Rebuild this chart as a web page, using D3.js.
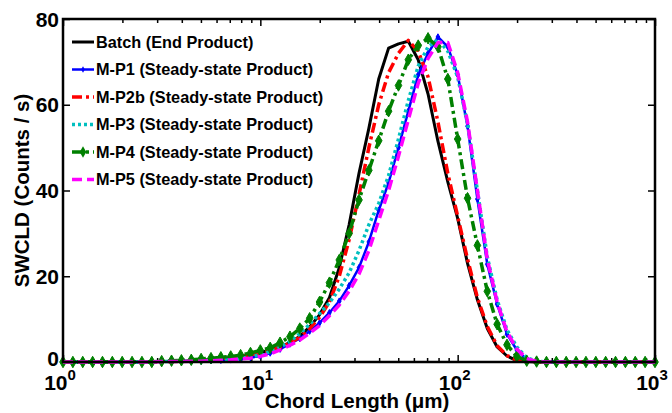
<!DOCTYPE html>
<html>
<head>
<meta charset="utf-8">
<script src="https://cdn.jsdelivr.net/npm/d3@7"></script>
<style>
  body { margin: 0; background: #fff; }
  svg { display: block; font-family: "Liberation Sans", Arial, sans-serif; font-weight: bold; }
</style>
</head>
<body>
<svg id="fig" width="672" height="413"></svg>
<script>
// chord length bins (um), log spaced
const chordLength = [1, 1.122, 1.259, 1.413, 1.585, 1.778, 1.995, 2.239, 2.512, 2.818,
  3.162, 3.548, 3.981, 4.467, 5.012, 5.623, 6.310, 7.079, 7.943, 8.913,
  10, 11.22, 12.59, 14.13, 15.85, 17.78, 19.95, 22.39, 25.12, 28.18,
  31.62, 35.48, 39.81, 44.67, 50.12, 56.23, 63.10, 70.79, 79.43, 89.13,
  100, 112.2, 125.9, 141.3, 158.5, 177.8, 199.5, 223.9, 251.2, 281.8,
  316.2, 354.8, 398.1, 446.7, 501.2, 562.3, 631.0, 707.9, 794.3, 891.3, 1000];

const batch = [0, 0, 0, 0, 0, 0, 0, 0, 0, 0,
  0.1, 0.1, 0.2, 0.3, 0.4, 0.6, 0.8, 1.0, 1.3, 1.7,
  2.2, 2.8, 3.5, 4.5, 6, 8.2, 11, 15, 22, 32,
  44, 54.5, 66, 73.2, 74.2, 74.8, 70.5, 62.5, 51.5, 42,
  33.5, 23, 14.5, 7.8, 3.5, 1.4, 0.3, 0.1, 0, 0,
  0, 0, 0, 0, 0, 0, 0, 0, 0, 0, 0];

const mp1 = [0, 0, 0, 0, 0, 0, 0, 0, 0, 0,
  0.1, 0.1, 0.1, 0.2, 0.2, 0.3, 0.4, 0.5, 0.7, 1.0,
  1.4, 2.1, 3.0, 4.2, 5.5, 7.2, 9.1, 11.5, 14.2, 17.8,
  22, 28, 35.4, 41.8, 50, 58.5, 67, 72, 75.8, 73.5,
  67, 55, 38, 22.8, 13.5, 6.5, 2.8, 0.5, 0.1, 0,
  0, 0, 0, 0, 0, 0, 0, 0, 0, 0, 0];

const mp2b = [0, 0, 0, 0, 0, 0, 0, 0, 0, 0,
  0.1, 0.1, 0.2, 0.3, 0.4, 0.6, 0.8, 1.0, 1.3, 1.7,
  2.2, 2.7, 3.4, 4.4, 5.8, 7.8, 10.4, 14, 20, 28.5,
  39, 50, 60, 67.5, 72, 75, 72.5, 66.5, 56, 44,
  34, 24, 15, 8.3, 3.8, 1.5, 0.4, 0.1, 0, 0,
  0, 0, 0, 0, 0, 0, 0, 0, 0, 0, 0];

const mp3 = [0, 0, 0, 0, 0, 0, 0, 0, 0, 0,
  0.1, 0.1, 0.2, 0.2, 0.3, 0.4, 0.5, 0.7, 0.9, 1.2,
  1.7, 2.4, 3.4, 4.8, 6.6, 8.8, 11.3, 13.8, 17, 20.8,
  26, 32, 37, 43.5, 52, 61, 69, 73.5, 75.2, 72.5,
  66.5, 55.5, 40, 24.5, 14.5, 7.5, 3.5, 1, 0.2, 0,
  0, 0, 0, 0, 0, 0, 0, 0, 0, 0, 0];

const mp4 = [0, 0, 0, 0, 0, 0, 0, 0, 0, 0,
  0.2, 0.3, 0.4, 0.5, 0.7, 0.9, 1.1, 1.3, 1.6, 2.1,
  2.7, 3.3, 4.5, 5.9, 7.8, 10.2, 14, 18.5, 23.8, 30,
  37.8, 44.7, 51.6, 58.5, 64.5, 70.5, 73.8, 75.5, 73.5, 66,
  52, 38.2, 27.2, 16.5, 8.8, 4, 1.3, 0.3, 0.1, 0,
  0, 0, 0, 0, 0, 0, 0, 0, 0, 0, 0];

const mp5 = [0, 0, 0, 0, 0, 0, 0, 0, 0, 0,
  0.1, 0.1, 0.1, 0.2, 0.2, 0.3, 0.4, 0.5, 0.7, 0.9,
  1.3, 1.9, 2.8, 3.9, 5.1, 6.7, 8.5, 10.8, 13.3, 16.5,
  20.5, 26, 33, 40, 48, 56.5, 65, 70.8, 74.5, 74.5,
  67.5, 56, 40, 24, 14, 7, 3, 0.8, 0.1, 0,
  0, 0, 0, 0, 0, 0, 0, 0, 0, 0, 0];

const seriesNames = ["Batch (End Product)", "M-P1 (Steady-state Product)", "M-P2b (Steady-state Product)",
  "M-P3 (Steady-state Product)", "M-P4 (Steady-state Product)", "M-P5 (Steady-state Product)"];
const seriesValues = [batch, mp1, mp2b, mp3, mp4, mp5];

const xMajor = [1, 10, 100, 1000];
const yTicks = [0, 20, 40, 60, 80];

// styling per series
const styles = [
  {color: "#000000", width: 3, dash: null, marker: null},
  {color: "#0000ff", width: 2.5, dash: null, marker: 12},
  {color: "#ff0000", width: 3.5, dash: "10,4,3,4", marker: null},
  {color: "#00bfbf", width: 3.5, dash: "3,3", marker: null},
  {color: "#008000", width: 3.5, dash: "10,4,3,4", marker: 38},
  {color: "#ff00ff", width: 3.5, dash: "10,5", marker: null}
];

const svg = d3.select("#fig");
const margin = {left: 63, right: 17, top: 19, bottom: 51};
const W = 672 - margin.left - margin.right;
const H = 413 - margin.top - margin.bottom;

const fig = svg.append("g").attr("transform", `translate(${margin.left},${margin.top})`);

const x = d3.scaleLog().domain([1, 1000]).range([0, W]);
const y = d3.scaleLinear().domain([0, 80]).range([H, 0]);

// minor ticks 2..9 in each decade
const xMinor = [];
xMajor.slice(0, -1).forEach(d => { for (let k = 2; k <= 9; k++) xMinor.push(d * k); });

function tickAxis(axisFn, scale, vals, size) {
  return axisFn(scale).tickValues(vals).tickSize(size).tickSizeOuter(0).tickFormat("");
}

const axes = [
  {fn: d3.axisBottom, s: x, t: `translate(0,${H})`, major: xMajor, minor: xMinor},
  {fn: d3.axisTop, s: x, t: `translate(0,0)`, major: xMajor, minor: xMinor},
  {fn: d3.axisLeft, s: y, t: `translate(0,0)`, major: yTicks, minor: []},
  {fn: d3.axisRight, s: y, t: `translate(${W},0)`, major: yTicks, minor: []}
];
axes.forEach(a => {
  [[a.major, -7], [a.minor, -4]].forEach(([vals, size]) => {
    if (!vals.length) return;
    const g = fig.append("g").attr("transform", a.t).call(tickAxis(a.fn, a.s, vals, size));
    g.select(".domain").remove();
    g.selectAll(".tick line").attr("stroke", "#000").attr("stroke-width", 1.5);
  });
});

// curves
const line = d3.line().x((d, i) => x(chordLength[i])).y(d => y(d));
seriesValues.forEach((vals, si) => {
  const st = styles[si];
  fig.append("path")
    .datum(vals)
    .attr("fill", "none")
    .attr("stroke", st.color)
    .attr("stroke-width", st.width)
    .attr("stroke-dasharray", st.dash)
    .attr("stroke-linejoin", "round")
    .attr("d", line);
  if (st.marker) {
    fig.append("g").selectAll("path")
      .data(vals)
      .join("path")
      .attr("transform", (d, i) => `translate(${x(chordLength[i])},${y(d)})`)
      .attr("d", d3.symbol(d3.symbolDiamond, st.marker))
      .attr("fill", st.color)
      .attr("stroke", st.color)
      .attr("stroke-width", 1);
  }
});

// box
fig.append("rect")
  .attr("width", W).attr("height", H)
  .attr("fill", "none").attr("stroke", "#000").attr("stroke-width", 2.5);

// tick labels (bottom "0" nudged up, like the original, so it clears 10^0)
fig.append("g").selectAll("text")
  .data(yTicks)
  .join("text")
  .attr("x", -4)
  .attr("y", d => y(d) + (d === 0 ? 4 : 7.5))
  .attr("text-anchor", "end")
  .attr("font-size", 21)
  .text(d => d);

const xl = fig.append("g").selectAll("text")
  .data(xMajor)
  .join("text")
  .attr("x", d => x(d) - 3)
  .attr("y", H + 28)
  .attr("text-anchor", "middle")
  .attr("font-size", 21);
xl.append("tspan").text("10");
xl.append("tspan").attr("dy", -10).attr("font-size", 15).text(d => Math.round(Math.log10(d)));

// axis titles
svg.append("text")
  .attr("x", margin.left + W / 2 - 2)
  .attr("y", 408)
  .attr("text-anchor", "middle")
  .attr("font-size", 20.5)
  .text("Chord Length (\u03bcm)");

svg.append("text")
  .attr("transform", `translate(29,${margin.top + H / 2}) rotate(-90)`)
  .attr("text-anchor", "middle")
  .attr("font-size", 20.5)
  .text("SWCLD (Counts / s)");

// legend
const legend = fig.append("g").attr("transform", "translate(9,23)");
seriesNames.forEach((name, i) => {
  const st = styles[i];
  const row = legend.append("g").attr("transform", `translate(0,${i * 27.5})`);
  row.append("line")
    .attr("x1", 0).attr("x2", 22).attr("y1", 0).attr("y2", 0)
    .attr("stroke", st.color)
    .attr("stroke-width", st.width)
    .attr("stroke-dasharray", st.dash);
  if (st.marker) {
    row.append("path")
      .attr("transform", "translate(11,0)")
      .attr("d", d3.symbol(d3.symbolDiamond, st.marker))
      .attr("fill", st.color);
  }
  row.append("text")
    .attr("x", 24)
    .attr("y", 5.5)
    .attr("font-size", 16.3)
    .text(name);
});
</script>
</body>
</html>
